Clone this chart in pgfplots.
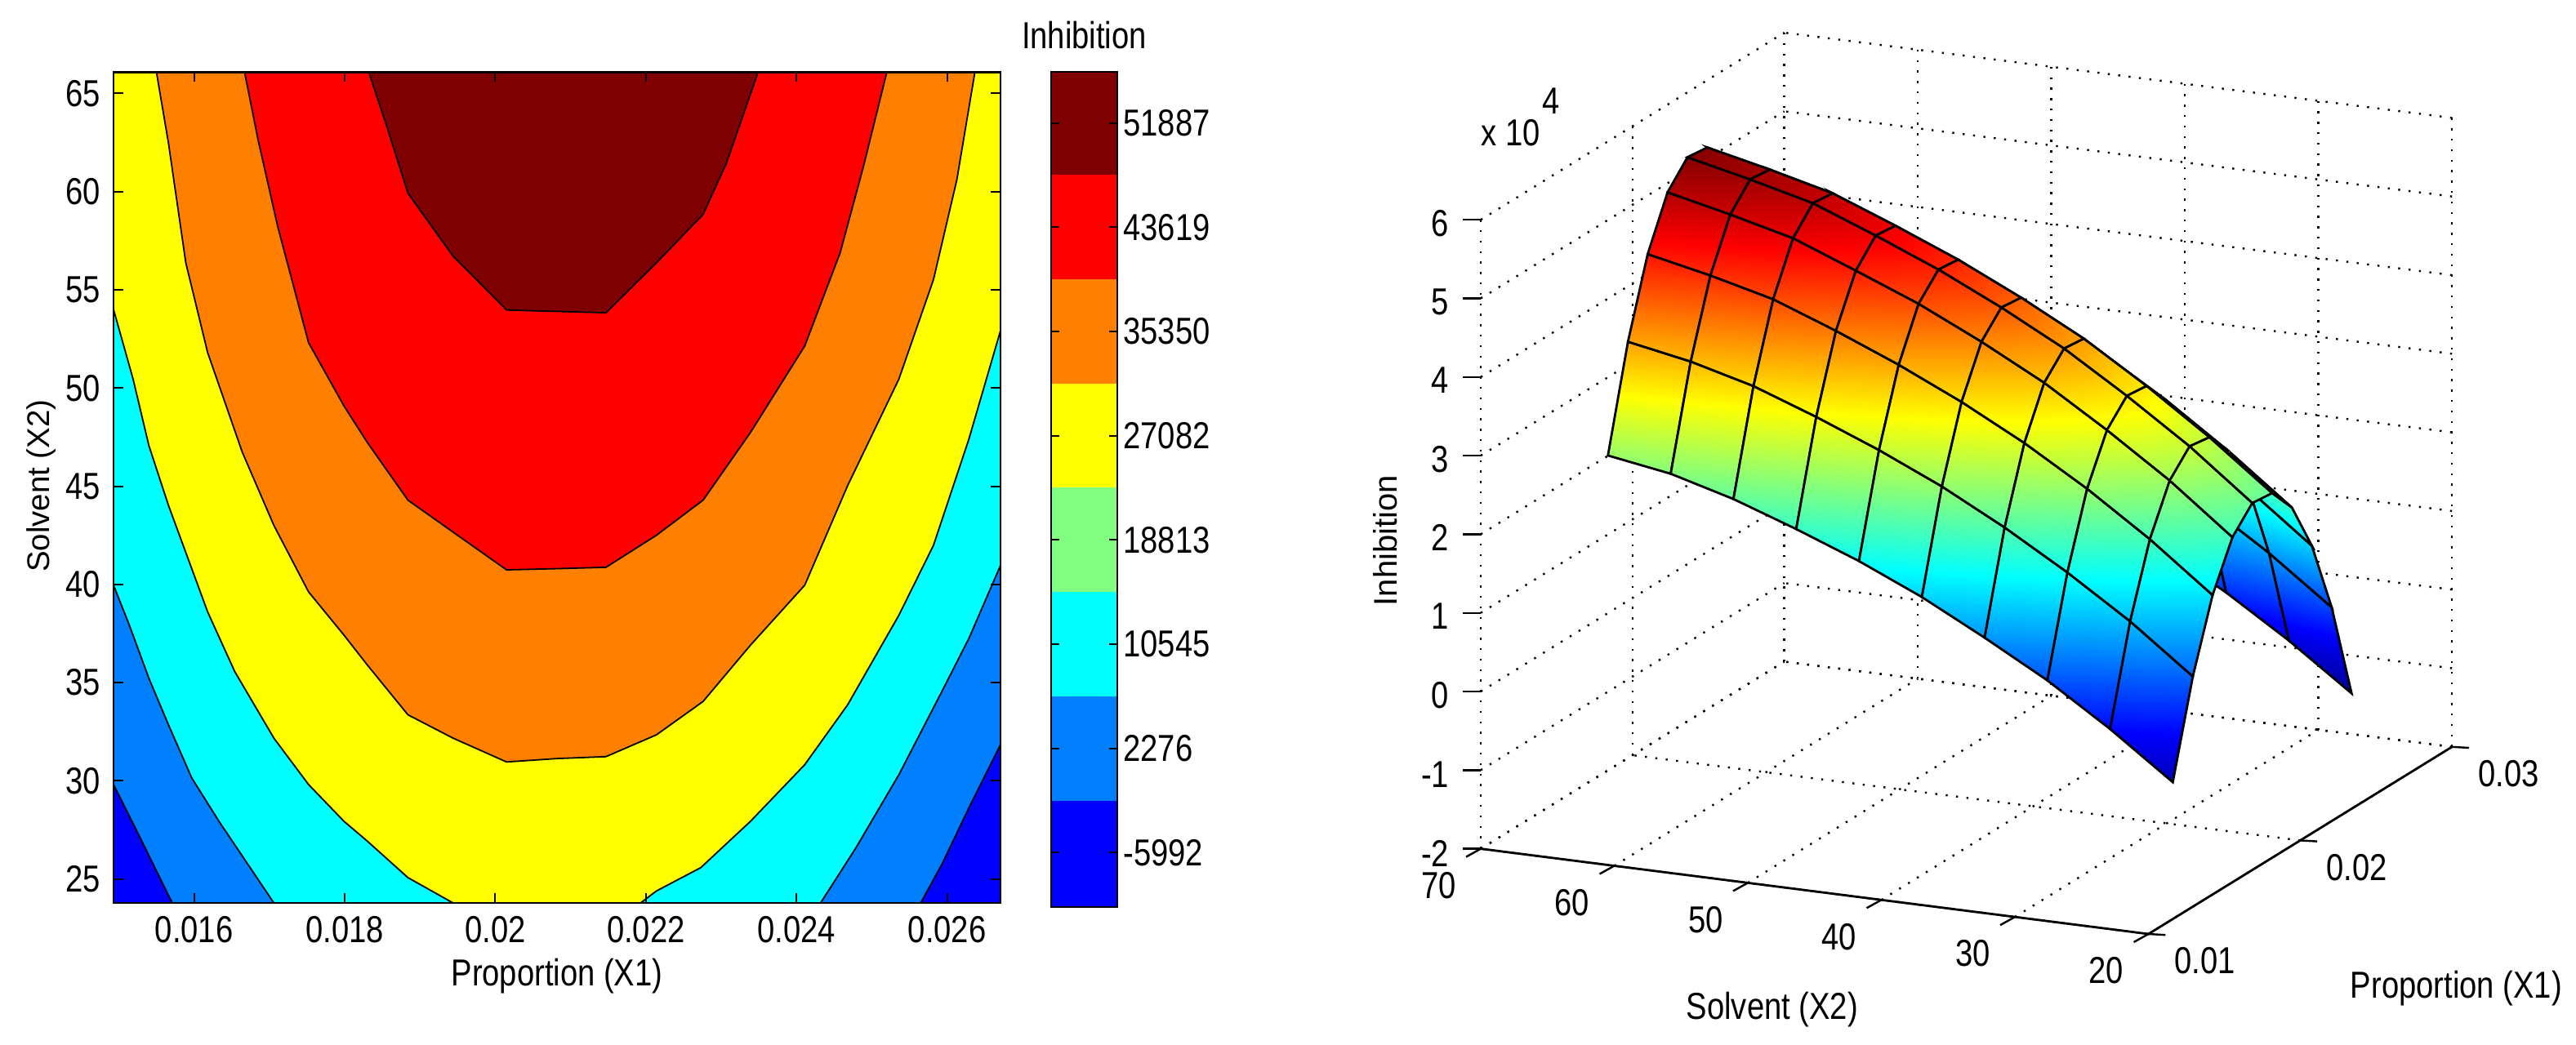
\documentclass[border=0pt]{standalone}
\usepackage{pgfplots}
\pgfplotsset{compat=1.18}
\usepackage{fontspec}
\setmainfont[FakeStretch=0.83]{Liberation Sans}
\newfontfamily\plainfont{Liberation Sans}
\definecolor{c1}{HTML}{0000FF}
\definecolor{c2}{HTML}{0080FF}
\definecolor{c3}{HTML}{00FFFF}
\definecolor{c4}{HTML}{80FF80}
\definecolor{c5}{HTML}{FFFF00}
\definecolor{c6}{HTML}{FF8000}
\definecolor{c7}{HTML}{FF0000}
\definecolor{c8}{HTML}{7F0000}
\pgfplotsset{colormap={matjet}{rgb255=(0,0,143) rgb255=(0,0,255) rgb255=(0,128,255) rgb255=(0,255,255) rgb255=(128,255,128) rgb255=(255,255,0) rgb255=(255,128,0) rgb255=(255,0,0) rgb255=(128,0,0)}}
\begin{document}
\begin{tikzpicture}
\path[use as bounding box] (0pt,0pt) rectangle (788.5pt,319.75pt);
\fontsize{11.5pt}{13pt}\selectfont
\pgfplotsset{every axis/.append style={font=\fontsize{11.5pt}{13pt}\selectfont,
  /pgf/number format/assume math mode=true,scaled ticks=false}}
% ---------- contour
\begin{axis}[at={(34.75pt,43.25pt)},anchor=south west,scale only axis,width=271.5pt,height=254.4pt,
  xmin=0.01493,xmax=0.02671,ymin=23.78,ymax=66.08,
  xtick={0.016,0.018,0.02,0.022,0.024,0.026},
  xticklabels={0.016,0.018,0.02,0.022,0.024,0.026},
  ytick={25,30,35,40,45,50,55,60,65},
  tick align=inside,major tick length=3pt,tick style={black,line width=0.5pt},
  axis line style={line width=0.6pt},axis on top,
  xlabel={Proportion (X1)},ylabel={Solvent (X2)},
  xlabel style={yshift=3pt},
  ylabel style={font=\plainfont\fontsize{9.6pt}{11pt}\selectfont,yshift=-5pt,xshift=0.5pt}]
\addplot[fill=c1,draw=none] coordinates {(0.01493,23.78)(0.02671,23.78)(0.02671,66.08)(0.01493,66.08)} --cycle;
\addplot[fill=c2,draw=black,line width=0.45pt] coordinates {(0.01493,66.08)(0.01493,29.81)(0.01524,27.44)(0.01571,23.78)(0.02565,23.78)(0.02593,25.74)(0.02629,28.62)(0.02671,31.84)(0.02671,66.08)} --cycle;
\addplot[fill=c3,draw=black,line width=0.45pt] coordinates {(0.01493,66.08)(0.01493,39.96)(0.01514,37.93)(0.01540,35.22)(0.01566,32.85)(0.01597,30.14)(0.01633,27.94)(0.01706,23.78)(0.02432,23.78)(0.02479,26.59)(0.02536,30.31)(0.02593,34.54)(0.02629,37.25)(0.02671,40.97)(0.02671,66.08)} --cycle;
\addplot[fill=c5,draw=black,line width=0.45pt] coordinates {(0.01493,66.08)(0.01493,54.0)(0.01519,50.45)(0.01540,47.06)(0.01566,44.02)(0.01618,38.60)(0.01654,35.56)(0.01706,32.17)(0.01752,29.81)(0.01799,27.94)(0.01830,26.93)(0.01884,25.07)(0.01944,23.78)(0.02193,23.78)(0.02214,24.39)(0.02273,25.58)(0.02339,27.94)(0.02411,30.82)(0.02468,33.87)(0.02536,38.43)(0.02582,41.99)(0.02629,47.40)(0.02671,52.92)(0.02671,66.08)} --cycle;
\addplot[fill=c6,draw=black,line width=0.45pt] coordinates {(0.01550,66.08)(0.01566,62.46)(0.01589,56.37)(0.01618,51.80)(0.01664,46.73)(0.01706,43.0)(0.01752,39.62)(0.01799,37.42)(0.01830,35.90)(0.01884,33.36)(0.01944,32.17)(0.02015,30.96)(0.02081,31.13)(0.02147,31.23)(0.02214,32.34)(0.02276,34.04)(0.02339,36.91)(0.02411,39.96)(0.02468,45.03)(0.02536,50.45)(0.02582,55.52)(0.02613,60.60)(0.02637,66.08)} --cycle;
\addplot[fill=c7,draw=black,line width=0.45pt] coordinates {(0.01667,66.08)(0.01685,62.63)(0.01711,58.23)(0.01752,52.31)(0.01799,49.09)(0.01830,47.23)(0.01884,44.29)(0.01944,42.66)(0.02015,40.74)(0.02081,40.80)(0.02147,40.87)(0.02214,42.50)(0.02276,44.29)(0.02339,47.74)(0.02411,52.14)(0.02458,56.88)(0.02489,61.28)(0.02520,66.08)} --cycle;
\addplot[fill=c8,draw=black,line width=0.45pt] coordinates {(0.01832,66.08)(0.01856,63.31)(0.01884,59.92)(0.01944,56.71)(0.02015,53.97)(0.02081,53.90)(0.02147,53.83)(0.02214,56.37)(0.02276,58.84)(0.02307,61.45)(0.02349,66.08)} --cycle;
\end{axis}
% ---------- colour bar
\begin{axis}[at={(321.75pt,42pt)},anchor=south west,scale only axis,width=20.25pt,height=255.75pt,
  xmin=0,xmax=1,xtick=\empty,ymin=-10310,ymax=55942,
  ytick={-5992,2276,10545,18813,27082,35350,43619,51887},
  yticklabels={-5992,2276,10545,18813,27082,35350,43619,51887},
  yticklabel pos=right,yticklabel style={xshift=-2.2pt},
  tick align=inside,major tick length=2.6pt,tick style={black,line width=0.5pt},
  axis line style={line width=0.6pt},axis on top,
  title={Inhibition},title style={at={(0.5,1)},yshift=-3pt}]
\addplot[fill=c1,draw=none] coordinates {(0,-10310)(1,-10310)(1,-1858)(0,-1858)} --cycle;
\addplot[fill=c2,draw=none] coordinates {(0,-1858)(1,-1858)(1,6410)(0,6410)} --cycle;
\addplot[fill=c3,draw=none] coordinates {(0,6410)(1,6410)(1,14679)(0,14679)} --cycle;
\addplot[fill=c4,draw=none] coordinates {(0,14679)(1,14679)(1,22948)(0,22948)} --cycle;
\addplot[fill=c5,draw=none] coordinates {(0,22948)(1,22948)(1,31216)(0,31216)} --cycle;
\addplot[fill=c6,draw=none] coordinates {(0,31216)(1,31216)(1,39485)(0,39485)} --cycle;
\addplot[fill=c7,draw=none] coordinates {(0,39485)(1,39485)(1,47753)(0,47753)} --cycle;
\addplot[fill=c8,draw=none] coordinates {(0,47753)(1,47753)(1,55942)(0,55942)} --cycle;
\end{axis}
% ---------- surface
\begin{axis}[at={(453.25pt,33.75pt)},anchor=south west,
  x={(4645.5pt,2865pt)},y={(-4.0875pt,0.522pt)},z={(0pt,24.075pt)},
  xmin=0.01,xmax=0.03,ymin=20,ymax=70,zmin=-2,zmax=6,
  xtick={0.01,0.02,0.03},xticklabels={0.01,0.02,0.03},
  ytick={20,30,40,50,60,70},ztick={-2,...,6},
  grid=major,major grid style={dash pattern=on 0.6pt off 2.6pt,black,line width=0.6pt},
  axis line style={draw=none},
  tick align=outside,major tick length=3pt,tick style={draw=none},
  xticklabel style={xshift=5pt,yshift=2.7pt},
  yticklabel style={xshift=-5.5pt,yshift=-1pt},
  zticklabel style={xshift=-2.7pt},
  xlabel style={xshift=7.8pt},
  ylabel style={xshift=7.5pt,yshift=0.4pt},
  zlabel style={font=\plainfont\fontsize{10pt}{11pt}\selectfont,xshift=4.7pt,yshift=-1.5pt},
  clip=false,
  xlabel={Proportion (X1)},ylabel={Solvent (X2)},zlabel={Inhibition},
  colormap name=matjet,point meta min=-1.05,point meta max=5.72]
\addplot3[surf,z buffer=sort,shader=faceted interp,faceted color=black,line width=0.7pt] table {
0.01493 66.08 2.50
0.01625 66.08 3.79
0.01755 66.08 4.75
0.01886 66.08 5.38
0.02017 66.08 5.67
0.02147 66.08 5.64
0.02278 66.08 5.28
0.02409 66.08 4.58
0.02540 66.08 3.56
0.02671 66.08 2.20

0.01493 61.38 2.37
0.01625 61.38 3.64
0.01755 61.38 4.58
0.01886 61.38 5.20
0.02017 61.38 5.49
0.02147 61.38 5.46
0.02278 61.38 5.10
0.02409 61.38 4.42
0.02540 61.38 3.41
0.02671 61.38 2.08

0.01493 56.68 2.15
0.01625 56.68 3.43
0.01755 56.68 4.38
0.01886 56.68 5.00
0.02017 56.68 5.29
0.02147 56.68 5.26
0.02278 56.68 4.90
0.02409 56.68 4.21
0.02540 56.68 3.20
0.02671 56.68 1.86

0.01493 51.98 1.87
0.01625 51.98 3.14
0.01755 51.98 4.08
0.01886 51.98 4.69
0.02017 51.98 4.98
0.02147 51.98 4.95
0.02278 51.98 4.60
0.02409 51.98 3.91
0.02540 51.98 2.91
0.02671 51.98 1.58

0.01493 47.28 1.565
0.01625 47.28 2.82
0.01755 47.28 3.75
0.01886 47.28 4.37
0.02017 47.28 4.65
0.02147 47.28 4.62
0.02278 47.28 4.27
0.02409 47.28 3.59
0.02540 47.28 2.60
0.02671 47.28 1.28

0.01493 42.58 1.21
0.01625 42.58 2.46
0.01755 42.58 3.38
0.01886 42.58 3.99
0.02017 42.58 4.27
0.02147 42.58 4.24
0.02278 42.58 3.89
0.02409 42.58 3.22
0.02540 42.58 2.23
0.02671 42.58 0.92

0.01493 37.88 0.795
0.01625 37.88 2.04
0.01755 37.88 2.96
0.01886 37.88 3.57
0.02017 37.88 3.85
0.02147 37.88 3.82
0.02278 37.88 3.47
0.02409 37.88 2.80
0.02540 37.88 1.82
0.02671 37.88 0.51

0.01493 33.18 0.354
0.01625 33.18 1.57
0.01755 33.18 2.48
0.01886 33.18 3.07
0.02017 33.18 3.35
0.02147 33.18 3.32
0.02278 33.18 2.98
0.02409 33.18 2.32
0.02540 33.18 1.35
0.02671 33.18 0.07

0.01493 28.48 -0.163
0.01625 28.48 1.05
0.01755 28.48 1.94
0.01886 28.48 2.53
0.02017 28.48 2.81
0.02147 28.48 2.77
0.02278 28.48 2.43
0.02409 28.48 1.79
0.02540 28.48 0.83
0.02671 28.48 -0.44

0.01493 23.78 -0.738
0.01625 23.78 0.45
0.01755 23.78 1.33
0.01886 23.78 1.91
0.02017 23.78 2.19
0.02147 23.78 2.16
0.02278 23.78 1.82
0.02409 23.78 1.18
0.02540 23.78 0.24
0.02671 23.78 -1.01
};
\addplot3[black,solid,line width=0.7pt,no marks] coordinates {(0.01,70,-2)(0.01,20,-2)(0.03,20,-2)};
\pgfplotsinvokeforeach{-2,-1,0,1,2,3,4,5,6}{\draw[black,line width=0.6pt] (axis cs:0.01,70,#1) -- ++(-5.5pt,0pt);}
\pgfplotsinvokeforeach{20,30,40,50,60,70}{\draw[black,line width=0.6pt] (axis cs:0.01,#1,-2) -- ++(-4.5pt,-2.5pt);}
\pgfplotsinvokeforeach{0.01,0.02,0.03}{\draw[black,line width=0.6pt] (axis cs:#1,20,-2) -- ++(5.2pt,-0.3pt);}
\end{axis}
\node[anchor=west,inner sep=0pt] at (453.25pt,279pt) {x 10};
\node[inner sep=0pt] at (474.75pt,288.75pt) {4};
\end{tikzpicture}
\end{document}
